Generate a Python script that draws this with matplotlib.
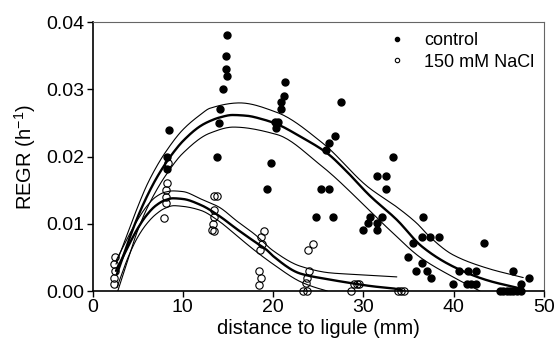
import matplotlib
matplotlib.use("Agg")
import matplotlib.pyplot as plt
import numpy as np

plt.rcParams['font.family'] = ['Liberation Sans', 'DejaVu Sans']
plt.rcParams['mathtext.fontset'] = 'custom'
plt.rcParams['mathtext.rm'] = 'Liberation Sans'
plt.rcParams['mathtext.it'] = 'Liberation Sans'

# ---- data: control (filled) ----
ctrl_x = [8.47, 8.25, 8.25,
          14.9, 14.8, 14.8, 14.9, 14.45, 14.1, 14.0, 13.8,
          21.3, 21.2, 20.9, 20.9, 20.2, 20.5, 20.3, 19.8, 19.3,
          27.5, 26.85, 26.2, 25.85, 25.3, 26.2, 24.75, 26.6,
          33.3, 31.5, 32.5, 32.5, 30.7, 32.1, 30.5, 31.5, 29.95, 31.5,
          36.6, 35.5, 36.5, 37.4, 38.4, 34.9, 36.5, 35.8, 37.05, 37.5,
          43.4, 40.6, 41.6, 42.5, 39.9, 41.5, 41.9, 42.5,
          46.6, 48.3, 47.45,
          45.1, 45.5, 45.9, 46.2, 46.6, 47.0, 47.4]
ctrl_y = [0.0240, 0.0199, 0.0182,
          0.0381, 0.0350, 0.0330, 0.0320, 0.0301, 0.0271, 0.0250, 0.0200,
          0.0311, 0.0290, 0.0281, 0.0271, 0.0251, 0.0251, 0.0242, 0.0190, 0.0152,
          0.0281, 0.0231, 0.0220, 0.0210, 0.0152, 0.0152, 0.0110, 0.0110,
          0.0200, 0.0171, 0.0171, 0.0152, 0.0110, 0.0110, 0.0101, 0.0101, 0.0091, 0.0091,
          0.0110, 0.0071, 0.0080, 0.0080, 0.0080, 0.0050, 0.0042, 0.0030, 0.0030, 0.0019,
          0.0071, 0.0030, 0.0030, 0.0030, 0.0010, 0.0010, 0.0010, 0.0010,
          0.0030, 0.0019, 0.0010,
          0.0, 0.0, 0.0, 0.0, 0.0, 0.0, 0.0]

# ---- data: 150 mM NaCl (open) ----
nacl_x = [2.5, 2.4, 2.5, 2.4, 2.4,
          8.2, 8.1, 8.1, 8.1, 7.9, 8.35,
          13.4, 13.8, 13.5, 13.4, 13.3, 13.2, 13.5,
          19.0, 18.65, 18.75, 18.55, 18.4, 18.65, 18.4,
          24.4, 23.9, 24.0, 23.75, 23.6, 23.3, 23.7,
          28.6, 29.0, 29.3, 29.5,
          33.8, 34.2, 34.5]
nacl_y = [0.0050, 0.0040, 0.0030, 0.0020, 0.0010,
          0.0161, 0.0150, 0.0140, 0.0131, 0.0109, 0.0190,
          0.0141, 0.0141, 0.0120, 0.0110, 0.0100, 0.0091, 0.0089,
          0.0089, 0.0080, 0.0070, 0.0061, 0.0030, 0.0019, 0.0009,
          0.0070, 0.0061, 0.0030, 0.0019, 0.0012, 0.0, 0.0,
          0.0, 0.0010, 0.0010, 0.0010,
          0.0, 0.0, 0.0]

# ---- fitted curves and confidence bands ----
cfit_x = [2.7, 4, 5, 6, 7, 8, 9, 10, 12, 13, 14, 15.5, 17, 19, 20.5, 23, 26, 28, 30.7, 33.7, 36.5, 40, 43.7, 47.3]
cfit_y = [0.0025, 0.0075, 0.0110, 0.0140, 0.0166, 0.0188, 0.0207, 0.0223, 0.0246, 0.0253, 0.0258, 0.0262, 0.0261, 0.0255, 0.0248, 0.0230, 0.0205, 0.0180, 0.0142, 0.0106, 0.0066, 0.0036, 0.0016, 0.0004]
cup_x = [2.6, 4, 5, 6, 7, 8, 10, 12, 13, 16.3, 20.4, 25.5, 30.5, 33.7, 35.9, 37.4, 39.9, 43.7, 47.7]
cup_y = [0.0040, 0.0090, 0.0125, 0.0157, 0.0183, 0.0205, 0.0240, 0.0263, 0.0272, 0.0280, 0.0266, 0.0220, 0.0155, 0.0125, 0.0101, 0.0080, 0.0054, 0.0034, 0.0020]
clo_x = [2.8, 4, 5, 6, 7, 8, 10, 13, 15.6, 20.4, 25.2, 32.9, 36.3, 39.9, 42.9]
clo_y = [0.0000, 0.0050, 0.0090, 0.0122, 0.0148, 0.0170, 0.0205, 0.0235, 0.0244, 0.0233, 0.0188, 0.0091, 0.0050, 0.0021, 0.0000]

nfit_x = [2.6, 4, 5, 6, 7, 8, 8.9, 10, 12, 14, 16, 18, 19.3, 20, 23, 26.3, 28.5, 31, 33.7, 34.4]
nfit_y = [0.0030, 0.0068, 0.0093, 0.0113, 0.0127, 0.0135, 0.0138, 0.0137, 0.0128, 0.0112, 0.0092, 0.0073, 0.0061, 0.0052, 0.0026, 0.0017, 0.0012, 0.0007, 0.0003, 0.0]
nup_x = [2.6, 4, 5, 6, 7, 8, 8.9, 10, 12, 14, 16, 18, 20, 23, 26.3, 28.5, 31, 33.7]
nup_y = [0.0045, 0.0082, 0.0106, 0.0126, 0.0140, 0.0147, 0.0149, 0.0148, 0.0137, 0.0125, 0.0104, 0.0084, 0.0060, 0.0037, 0.0027, 0.0025, 0.0023, 0.0021]
nlo_x = [2.7, 4, 5, 6, 7, 8, 9, 10, 12, 14, 16, 18, 20, 23, 24.5, 26.0]
nlo_y = [0.0005, 0.0052, 0.0080, 0.0100, 0.0114, 0.0123, 0.0127, 0.0126, 0.0120, 0.0104, 0.0082, 0.0060, 0.0040, 0.0014, 0.0006, 0.0]

x_ticks = [0, 10, 20, 30, 40, 50]
y_ticks = [0.00, 0.01, 0.02, 0.03, 0.04]


def smooth(xs, ys, n=20):
    """Monotone cubic (PCHIP) rendering through the read points."""
    x = np.asarray(xs, float)
    y = np.asarray(ys, float)
    h = np.diff(x)
    d = np.diff(y) / h
    m = np.zeros_like(y)
    for k in range(1, len(x) - 1):
        if d[k - 1] * d[k] > 0:
            w1 = 2 * h[k] + h[k - 1]
            w2 = h[k] + 2 * h[k - 1]
            m[k] = (w1 + w2) / (w1 / d[k - 1] + w2 / d[k])
    m[0] = d[0]
    m[-1] = d[-1]
    ox, oy = [], []
    for k in range(len(x) - 1):
        t = np.linspace(0, 1, n, endpoint=False)
        h00 = 2 * t**3 - 3 * t**2 + 1
        h10 = t**3 - 2 * t**2 + t
        h01 = -2 * t**3 + 3 * t**2
        h11 = t**3 - t**2
        ox.extend(x[k] + t * h[k])
        oy.extend(h00 * y[k] + h10 * h[k] * m[k] + h01 * y[k + 1] + h11 * h[k] * m[k + 1])
    ox.append(x[-1])
    oy.append(y[-1])
    return ox, oy


fig = plt.figure(figsize=(5.55, 3.47), dpi=100)
ax = fig.add_axes([92.5/555, 1-291/347, (544-92.5)/555, (291-22.3)/347])

for xs, ys, lw in [(cfit_x, cfit_y, 1.7), (cup_x, cup_y, 0.8), (clo_x, clo_y, 0.8),
                   (nfit_x, nfit_y, 1.7), (nup_x, nup_y, 0.8), (nlo_x, nlo_y, 0.8)]:
    sx, sy = smooth(xs, ys)
    ax.plot(sx, sy, color='black', lw=lw, solid_capstyle='round', zorder=2)

ax.plot(ctrl_x, ctrl_y, 'o', color='black', markersize=5, ls='none', label='control', zorder=3, clip_on=False)
ax.plot(nacl_x, nacl_y, 'o', mfc='none', mec='black', mew=0.8, markersize=5.3, ls='none',
        label='150 mM NaCl', zorder=3, clip_on=False)

ax.set_xlim(0, 50)
ax.set_ylim(0, 0.04)
ax.set_xticks(x_ticks)
ax.set_yticks(y_ticks)
ax.set_yticklabels(['%.2f' % v for v in y_ticks])
ax.tick_params(direction='out', length=4, width=1, labelsize=14, pad=2)
for s in ['left', 'bottom']:
    ax.spines[s].set_linewidth(1.2)
for s in ['top', 'right']:
    ax.spines[s].set_linewidth(0.8)
    ax.spines[s].set_color('#666666')

ax.set_xlabel('distance to ligule (mm)', fontsize=14.5, labelpad=2)
ax.set_ylabel('REGR (h$^{-1}$)', fontsize=14.5, labelpad=6)

leg = ax.legend(loc='upper right', bbox_to_anchor=(0.995, 0.99), frameon=False, fontsize=13,
                markerscale=0.6, handlelength=1.2, handletextpad=0.9, labelspacing=0.25,
                borderaxespad=0.0)

fig.savefig('out.png', dpi=100)
